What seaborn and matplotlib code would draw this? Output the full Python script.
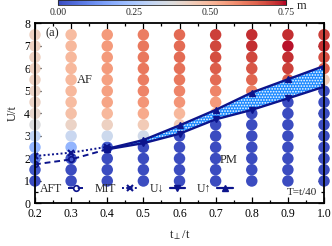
import numpy as np
import pandas as pd
import matplotlib
matplotlib.use("Agg")
import matplotlib.pyplot as plt
from matplotlib.lines import Line2D
import seaborn as sns

# ---- data ----
t_perp = [0.2, 0.3, 0.4, 0.5, 0.6, 0.7, 0.8, 0.9, 1.0]
U_grid = [1.0, 1.5, 2.0, 2.5, 3.0, 3.5, 4.0, 4.5, 5.0, 5.5, 6.0, 6.5, 7.0, 7.5]
m_02 = [0.00, 0.02, 0.08, 0.20, 0.30, 0.37, 0.41, 0.42, 0.42, 0.43, 0.43, 0.43, 0.43, 0.43]
m_03 = [0.00, 0.00, 0.02, 0.20, 0.32, 0.42, 0.48, 0.49, 0.50, 0.50, 0.50, 0.50, 0.50, 0.49]
m_04 = [0.00, 0.00, 0.00, 0.03, 0.33, 0.43, 0.50, 0.54, 0.55, 0.55, 0.56, 0.56, 0.56, 0.56]
m_05 = [0.00, 0.00, 0.00, 0.00, 0.34, 0.45, 0.53, 0.57, 0.60, 0.61, 0.62, 0.62, 0.62, 0.61]
m_06 = [0.00, 0.00, 0.00, 0.00, 0.00, 0.45, 0.50, 0.57, 0.60, 0.62, 0.63, 0.64, 0.64, 0.64]
m_07 = [0.00, 0.00, 0.00, 0.00, 0.00, 0.00, 0.52, 0.56, 0.60, 0.64, 0.66, 0.68, 0.69, 0.70]
m_08 = [0.00, 0.00, 0.00, 0.00, 0.00, 0.00, 0.00, 0.45, 0.60, 0.65, 0.67, 0.69, 0.72, 0.72]
m_09 = [0.00, 0.00, 0.00, 0.00, 0.00, 0.00, 0.00, 0.00, 0.45, 0.66, 0.70, 0.72, 0.74, 0.72]
m_10 = [0.00, 0.00, 0.00, 0.00, 0.00, 0.00, 0.00, 0.00, 0.00, 0.45, 0.66, 0.68, 0.72, 0.70]
m_cols = [m_02, m_03, m_04, m_05, m_06, m_07, m_08, m_09, m_10]

t_aft = [0.2, 0.3, 0.4]
U_aft = [1.74, 1.96, 2.41]
t_mit = [0.2, 0.3, 0.4]
U_mit = [2.11, 2.26, 2.52]
t_band = [0.4, 0.5, 0.6, 0.7, 0.8, 0.9, 1.0]
U_down = [2.41, 2.68, 3.10, 3.74, 4.16, 4.67, 5.19]
U_up = [2.43, 2.82, 3.47, 4.16, 4.93, 5.52, 6.11]

rows = []
for t, mc in zip(t_perp, m_cols):
    for u, m in zip(U_grid, mc):
        rows.append({"t": t, "U": u, "m": m})
df = pd.DataFrame(rows)

# ---- figure ----
sns.set_style("ticks")
plt.rcParams["font.family"] = ["Liberation Serif", "DejaVu Serif"]
plt.rcParams["mathtext.fontset"] = "stix"
plt.rcParams["hatch.linewidth"] = 0.8

fig = plt.figure(figsize=(3.32, 2.46), dpi=100)
ax = fig.add_axes([0.1054, 0.1728, 0.8706, 0.7317])

norm = plt.Normalize(0, 0.75)
sns.scatterplot(data=df, x="t", y="U", hue="m", palette="coolwarm",
                hue_norm=(0, 0.75), s=68, linewidth=0, legend=False,
                ax=ax, clip_on=False, zorder=1)

navy = "#0c148c"
ax.fill_between(t_band, U_down, U_up, facecolor="#1f8bff", edgecolor="white",
                hatch="......", linewidth=0, zorder=3)
ax.plot(t_band, U_down, color=navy, lw=1.7, marker="v", ms=5, zorder=4)
ax.plot(t_band, U_up, color=navy, lw=1.7, marker="^", ms=5, zorder=4)
ax.plot(t_aft, U_aft, color=navy, lw=1.4, ls=(0, (3, 2)), marker="o", ms=4,
        mfc="none", mew=1.2, zorder=4)
ax.plot(t_mit, U_mit, color=navy, lw=1.4, ls=(0, (1, 1.2)), marker="x", ms=4,
        mew=1.5, zorder=4)

ax.set_xlim(0.2, 1.0)
ax.set_ylim(0, 8)
ax.set_xticks(t_perp)
ax.set_xticklabels(["0.2", "0.3", "0.4", "0.5", "0.6", "0.7", "0.8", "0.9", "1.0"])
ax.set_yticks(range(0, 9))
ax.set_xticks(np.arange(0.25, 1.0, 0.1), minor=True)
ax.set_yticks(np.arange(0.5, 8.0, 1.0), minor=True)
ax.tick_params(which="both", direction="in", top=True, right=True,
               labelsize=8.5, width=0.9, colors="black")
ax.tick_params(which="major", length=4)
ax.tick_params(which="minor", length=2)
for sp in ax.spines.values():
    sp.set_linewidth(1.3)
    sp.set_color("black")
    sp.set_zorder(5)

ax.set_xlabel(r"t$_{\perp}$/t", fontsize=9, labelpad=6)
ax.set_ylabel("U/t", fontsize=9, labelpad=4)

ax.text(0.228, 7.55, "(a)", fontsize=9, va="center", ha="left")
ax.text(0.316, 5.49, "AF", fontsize=9, va="center", ha="left")
ax.text(0.712, 1.93, "PM", fontsize=9, va="center", ha="left")
ax.text(0.982, 0.47, "T=t/40", fontsize=8, va="center", ha="right")

handles = [
    Line2D([], [], color=navy, lw=1.4, ls=(0, (3, 2)), marker="o", ms=4, mfc="none", mew=1.2),
    Line2D([], [], color=navy, lw=1.4, ls=(0, (1, 1.2)), marker="x", ms=4, mew=1.5),
    Line2D([], [], color=navy, lw=1.6, marker="v", ms=5),
    Line2D([], [], color=navy, lw=1.6, marker="^", ms=5),
]
labels = ["AFT", "MIT", "U↓", "U↑"]
leg = ax.legend(handles, labels, loc="lower left", bbox_to_anchor=(-0.012, 0.0),
                ncol=4, frameon=False, markerfirst=False,
                handlelength=1.3, handletextpad=0.5, columnspacing=1.0,
                borderaxespad=0.3, prop={"family": ["Liberation Serif", "DejaVu Sans"], "size": 8.5})

# colorbar
cax = fig.add_axes([0.1747, 0.979, 0.687, 0.021])
sm = plt.cm.ScalarMappable(norm=norm, cmap="coolwarm")
cb = fig.colorbar(sm, cax=cax, orientation="horizontal")
cb.set_ticks([0.0, 0.25, 0.5, 0.75])
cb.set_ticklabels(["0.00", "0.25", "0.50", "0.75"])
cax.tick_params(direction="in", length=6, width=0.8, labelsize=7, pad=2)
cb.outline.set_linewidth(0.6)
cax.text(1.045, -0.2, "m", transform=cax.transAxes, fontsize=9, va="center", ha="left")

fig.savefig("out.png", dpi=100)
